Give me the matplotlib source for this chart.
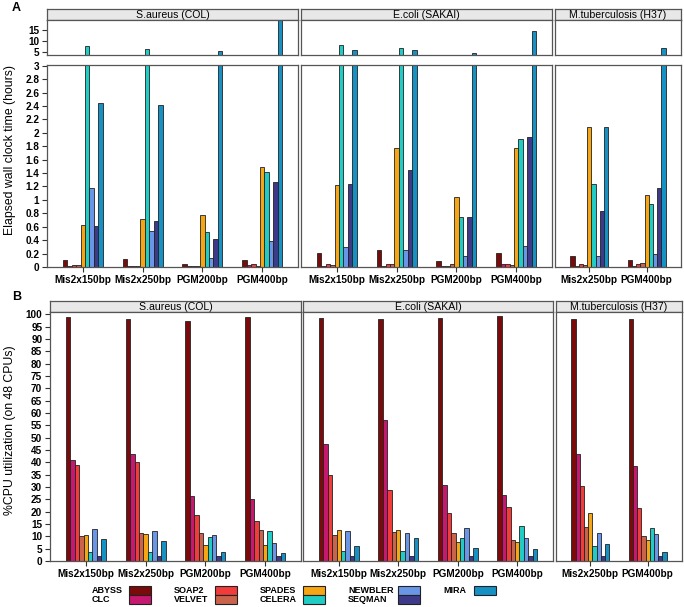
import matplotlib
matplotlib.use("Agg")
import matplotlib.pyplot as plt
from matplotlib.patches import Rectangle
import numpy as np

plt.rcParams['font.family'] = ['Liberation Sans', 'DejaVu Sans']

assemblers = ["ABYSS", "CLC", "SOAP2", "VELVET", "SPADES", "CELERA", "NEWBLER", "SEQMAN", "MIRA"]
colors = ["#7B0A0A", "#C6186E", "#F23B3B", "#C9634B", "#F6A614", "#21CCC4", "#6A96E8", "#3E3A8A", "#1591C4"]

organisms = ["S.aureus (COL)", "E.coli (SAKAI)", "M.tuberculosis (H37)"]
datasets = {
    "S.aureus (COL)": ["Mis2x150bp", "Mis2x250bp", "PGM200bp", "PGM400bp"],
    "E.coli (SAKAI)": ["Mis2x150bp", "Mis2x250bp", "PGM200bp", "PGM400bp"],
    "M.tuberculosis (H37)": ["Mis2x250bp", "PGM400bp"],
}

# Elapsed wall clock time (hours); rows = datasets, cols = assemblers
time_saureus = [
    [0.10, 0.015, 0.025, 0.025, 0.63, 7.7, 1.17, 0.61, 2.44],
    [0.12, 0.010, 0.015, 0.020, 0.72, 6.4, 0.53, 0.68, 2.41],
    [0.045, 0.010, 0.010, 0.015, 0.77, 0.52, 0.14, 0.41, 5.45],
    [0.11, 0.025, 0.040, 0.020, 1.49, 1.42, 0.38, 1.27, 20.0],
]
time_ecoli = [
    [0.21, 0.015, 0.050, 0.035, 1.22, 8.0, 0.30, 1.24, 5.9],
    [0.26, 0.015, 0.050, 0.045, 1.78, 6.95, 0.26, 1.44, 6.05],
    [0.09, 0.015, 0.020, 0.050, 1.04, 0.74, 0.16, 0.75, 4.4],
    [0.21, 0.040, 0.050, 0.035, 1.78, 1.90, 0.32, 1.94, 14.7],
]
time_mtb = [
    [0.17, 0.015, 0.045, 0.030, 2.09, 1.23, 0.17, 0.83, 2.09],
    [0.11, 0.020, 0.040, 0.055, 1.08, 0.94, 0.20, 1.17, 6.7],
]

# %CPU utilization (on 48 CPUs)
cpu_saureus = [
    [98.8, 40.8, 39.0, 10.0, 10.5, 3.5, 13.0, 2.0, 8.8],
    [98.2, 43.2, 40.2, 11.2, 10.8, 3.5, 12.0, 2.0, 8.2],
    [97.4, 26.4, 18.6, 11.3, 6.6, 9.8, 10.5, 2.0, 3.7],
    [99.0, 25.1, 16.3, 12.7, 6.6, 12.0, 7.1, 2.0, 3.2],
]
cpu_ecoli = [
    [98.4, 47.6, 34.9, 10.5, 12.6, 4.0, 12.0, 2.0, 5.9],
    [98.2, 57.0, 28.7, 11.8, 12.4, 4.0, 11.4, 2.0, 9.5],
    [98.5, 30.6, 19.3, 11.3, 7.8, 9.5, 13.2, 2.0, 5.3],
    [99.1, 26.8, 21.9, 8.5, 7.8, 14.0, 9.4, 2.0, 4.8],
]
cpu_mtb = [
    [98.1, 43.3, 30.2, 13.7, 19.3, 6.0, 11.4, 2.0, 7.0],
    [98.1, 38.3, 21.5, 10.0, 8.6, 13.2, 11.0, 2.0, 3.5],
]

time_data = {"S.aureus (COL)": time_saureus, "E.coli (SAKAI)": time_ecoli, "M.tuberculosis (H37)": time_mtb}
cpu_data = {"S.aureus (COL)": cpu_saureus, "E.coli (SAKAI)": cpu_ecoli, "M.tuberculosis (H37)": cpu_mtb}

W, H = 684, 607
fig = plt.figure(figsize=(W / 100, H / 100), dpi=100)


def rect(l, t, r, b):
    return [l / W, 1 - b / H, (r - l) / W, (b - t) / H]


FRAME = "#555555"
TICKFS = 7.2


def style(ax):
    for s in ax.spines.values():
        s.set_color(FRAME)
        s.set_linewidth(0.9)
    ax.tick_params(axis='both', length=3.5, width=0.8, color="#333333", labelsize=TICKFS, pad=2)
    for lab in ax.get_yticklabels() + ax.get_xticklabels():
        lab.set_fontweight('bold')


def strip(l, t, r, b, text):
    ax = fig.add_axes(rect(l, t, r, b))
    ax.set_facecolor("#E8E8E8")
    ax.set_xticks([])
    ax.set_yticks([])
    for s in ax.spines.values():
        s.set_color(FRAME)
        s.set_linewidth(0.9)
    ax.text(0.5, 0.45, text, ha='center', va='center', fontsize=7.6, transform=ax.transAxes)


nb = len(assemblers)
bw = (2.0 / 3.0) / nb


def draw_bars(ax, values, n):
    vals = np.array(values)
    x = np.arange(1, n + 1)
    for i in range(nb):
        off = (i - (nb - 1) / 2) * bw
        ax.bar(x + off, vals[:, i], width=bw, color=colors[i], edgecolor="#222222", linewidth=0.6, zorder=2)
    ax.set_xlim(0.4, n + 0.6)


# ---------------- Panel A ----------------
colsA = [(47, 298), (301, 552), (555, 681)]
for k, org in enumerate(organisms):
    l, r = colsA[k]
    n = len(datasets[org])
    strip(l, 9, r, 20, org)
    axu = fig.add_axes(rect(l, 20, r, 55))
    draw_bars(axu, time_data[org], n)
    axu.set_ylim(3.6, 19.7)
    axu.set_xticks([])
    if k == 0:
        axu.set_yticks([5, 10, 15])
    else:
        axu.set_yticks([])
    style(axu)
    axl = fig.add_axes(rect(l, 65, r, 267))
    draw_bars(axl, time_data[org], n)
    axl.set_ylim(0, 3.01)
    axl.set_xticks(np.arange(1, n + 1))
    axl.set_xticklabels(datasets[org])
    axl.tick_params(axis='x', length=0, pad=5)
    if k == 0:
        yt = np.round(np.arange(0, 3.01, 0.2), 1)
        axl.set_yticks(yt)
        axl.set_yticklabels(["%g" % v for v in yt])
    else:
        axl.set_yticks([])
    style(axl)

# ---------------- Panel B ----------------
colsB = [(50, 301), (303, 553), (556, 682)]
for k, org in enumerate(organisms):
    l, r = colsB[k]
    n = len(datasets[org])
    strip(l, 301, r, 312, org)
    ax = fig.add_axes(rect(l, 312, r, 561))
    draw_bars(ax, cpu_data[org], n)
    ax.set_ylim(0, 100.9)
    ax.set_xticks(np.arange(1, n + 1))
    ax.set_xticklabels(datasets[org])
    ax.tick_params(axis='x', length=0, pad=5)
    if k == 0:
        ax.set_yticks(np.arange(0, 101, 5))
    else:
        ax.set_yticks([])
    style(ax)

# Labels
fig.text(12 / W, 1 - 8 / H, "A", fontsize=9, fontweight='bold', ha='left', va='center')
fig.text(12 / W, 1 - 297 / H, "B", fontsize=9, fontweight='bold', ha='left', va='center')
fig.text(10 / W, 1 - 150 / H, "Elapsed wall clock time (hours)", rotation=90, fontsize=8.8, ha='center', va='center')
fig.text(10 / W, 1 - 430 / H, "%CPU utilization (on 48 CPUs)", rotation=90, fontsize=8.8, ha='center', va='center')

# Legend
leg_cols = [(92, 129), (174, 215), (260, 303), (348, 398), (443, 474)]
rows_y = [(586, 594.5), (594.5, 604)]
for c, (tx, px) in enumerate(leg_cols):
    for rr in range(2):
        idx = c * 2 + rr
        if idx >= nb:
            continue
        t, b = rows_y[rr]
        fig.text(tx / W, 1 - ((t + b) / 2 + 0.5) / H, assemblers[idx], fontsize=6.5, fontweight='bold',
                 ha='left', va='center')
        fig.patches.append(Rectangle((px / W, 1 - b / H), 22 / W, (b - t) / H, transform=fig.transFigure,
                                     facecolor=colors[idx], edgecolor="#222222", linewidth=0.8))

fig.savefig("out.png", dpi=100)
